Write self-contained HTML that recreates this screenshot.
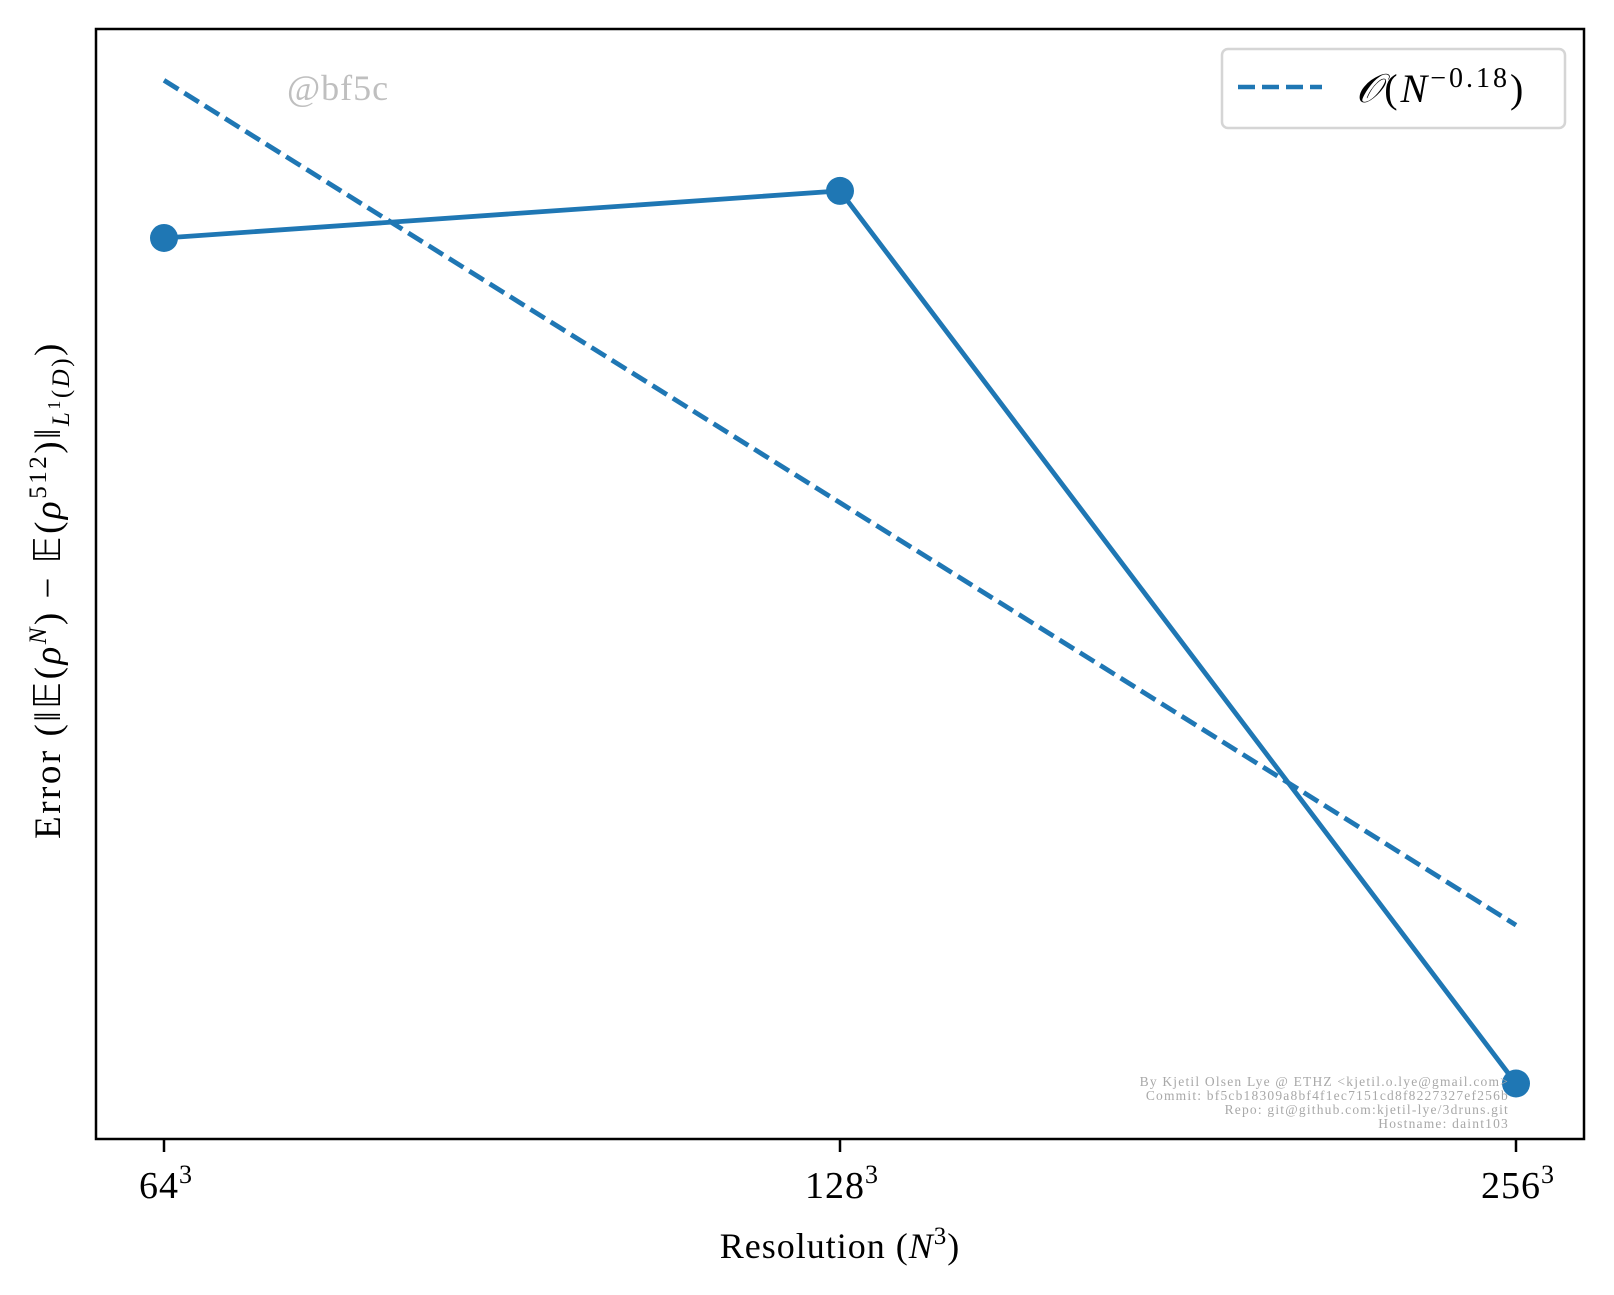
<!DOCTYPE html>
<html><head><meta charset="utf-8"><style>
html,body{margin:0;padding:0;background:#fff}
svg{display:block;font-family:"Liberation Serif",serif}
</style></head><body>
<svg id="chart" width="1614" height="1295" viewBox="0 0 1614 1295" xmlns="http://www.w3.org/2000/svg">
<rect x="0" y="0" width="1614" height="1295" fill="#fff"/>
<g id="plot"></g>
<rect x="96" y="29" width="1488" height="1110" fill="none" stroke="#000" stroke-width="2.5"/>
<text x="287" y="100" font-size="36" letter-spacing="1" fill="#bfbfbf">@bf5c</text>
<g>
<rect x="1222" y="49" width="343" height="79" rx="6" fill="#fff" fill-opacity="0.8" stroke="#d5d5d5" stroke-width="2.5"/>
<line x1="1238" y1="87" x2="1322" y2="87" stroke="#1f77b4" stroke-width="4.5" stroke-dasharray="17,7"/>
<text x="1356" y="102" font-size="40" letter-spacing="3"><tspan font-style="italic">𝒪</tspan>(<tspan font-style="italic">N</tspan><tspan dy="-15" font-size="28">−0.18</tspan><tspan dy="15">)</tspan></text>
</g>
<g font-size="13.5" letter-spacing="1.2" fill="#a8a8a8" text-anchor="end">
<text x="1509" y="1086">By Kjetil Olsen Lye @ ETHZ &lt;kjetil.o.lye@gmail.com&gt;</text>
<text x="1509" y="1100">Commit: bf5cb18309a8bf4f1ec7151cd8f8227327ef256b</text>
<text x="1509" y="1114">Repo: git@github.com:kjetil-lye/3druns.git</text>
<text x="1509" y="1128">Hostname: daint103</text>
</g>
<g id="xticks"></g>
<text x="840" y="1258" font-size="36" letter-spacing="1" text-anchor="middle">Resolution (<tspan font-style="italic">N</tspan><tspan dy="-14" font-size="25">3</tspan><tspan dy="14">)</tspan></text>
<text transform="translate(60,590) rotate(-90)" font-size="37" letter-spacing="2.5" text-anchor="middle">Error (‖𝔼(<tspan font-style="italic">ρ</tspan><tspan dy="-14" font-size="25" font-style="italic">N</tspan><tspan dy="14">) − 𝔼(</tspan><tspan font-style="italic">ρ</tspan><tspan dy="-14" font-size="25">512</tspan><tspan dy="14">)‖</tspan><tspan dy="9" font-size="25" font-style="italic">L</tspan><tspan dy="-9" font-size="18">1</tspan><tspan dy="9" font-size="25">(<tspan font-style="italic">D</tspan>)</tspan><tspan dy="-9">)</tspan></text>
</svg>
<script>
const resolutions = [64, 128, 256];
const tickLabels = ["64", "128", "256"];
const errors = [0.0300, 0.03042, 0.02337];
const refCoeff = [0.03143];
const refExponent = [-0.18];
const yDomain = [0.02299, 0.03191];

const NS = "http://www.w3.org/2000/svg";
const L = 96, R = 1584, T = 29, B = 1139;
function xScale(n){ return 164 + (Math.log2(n) - Math.log2(resolutions[0])) / (Math.log2(resolutions[resolutions.length-1]) - Math.log2(resolutions[0])) * (1516 - 164); }
function yScale(v){ return B - (Math.log10(v) - Math.log10(yDomain[0])) / (Math.log10(yDomain[1]) - Math.log10(yDomain[0])) * (B - T); }
function mk(tag, attrs, parent){ const e = document.createElementNS(NS, tag); for (const k in attrs) e.setAttribute(k, attrs[k]); parent.appendChild(e); return e; }

const plot = document.getElementById("plot");
const refPts = resolutions.map(n => xScale(n) + "," + yScale(refCoeff[0] * Math.pow(n / resolutions[0], refExponent[0])));
const ref = mk("polyline", {points: refPts.join(" "), fill: "none", stroke: "#1f77b4", "stroke-width": 4.8, "stroke-dasharray": "17,7"}, plot);


const pts = resolutions.map((n, i) => xScale(n) + "," + yScale(errors[i]));
const line = mk("polyline", {points: pts.join(" "), fill: "none", stroke: "#1f77b4", "stroke-width": 4.8, "stroke-linejoin": "round"}, plot);


resolutions.forEach((n, i) => {
  const c = mk("circle", {cx: xScale(n), cy: yScale(errors[i]), r: 14, fill: "#1f77b4"}, plot);
  
  
});

const xt = document.getElementById("xticks");
resolutions.forEach((n, i) => {
  const x = xScale(n);
  const t = mk("line", {x1: x, y1: B, x2: x, y2: B + 13, stroke: "#000", "stroke-width": 2.5}, xt);
  
  
  const lbl = mk("text", {x: x + 2, y: 1198, "font-size": 38, "letter-spacing": 1, "text-anchor": "middle"}, xt);
  
  
  lbl.textContent = tickLabels[i];
  const sup = document.createElementNS(NS, "tspan");
  sup.setAttribute("dy", "-15"); sup.setAttribute("font-size", "26");
  sup.textContent = "3";
  lbl.appendChild(sup);
});
</script>
</body></html>
